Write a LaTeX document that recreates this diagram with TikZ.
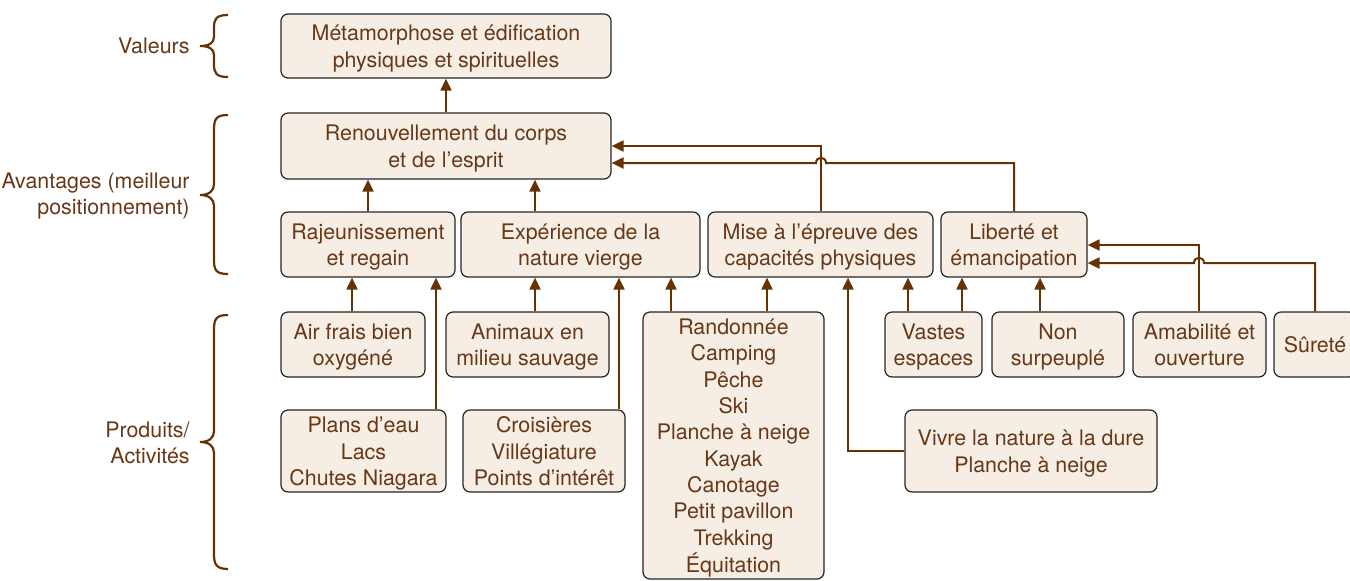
\documentclass[tikz,border=0pt]{standalone}
\usepackage{fontspec}
\setmainfont{TeX Gyre Heros}
\usetikzlibrary{arrows.meta}
\definecolor{boxfill}{RGB}{246,237,228}
\definecolor{txt}{RGB}{104,56,22}
\definecolor{ln}{RGB}{102,50,4}
\definecolor{bord}{RGB}{40,36,34}
\tikzset{
  box/.style={draw=bord, line width=0.6pt, fill=boxfill, rounded corners=3.5pt, inner sep=0pt,
    text=txt, font=\fontsize{10.7}{13.15}\selectfont},
  lab/.style={text=txt, align=right, anchor=east, inner sep=0pt, font=\fontsize{10.7}{13.15}\selectfont},
  conn/.style={draw=ln, line width=1pt, -{Triangle[length=6pt,width=5.5pt]}},
  brc/.style={draw=ln, line width=1.1pt},
}
\newcommand\mybox[6]{\node[box, minimum width={(#4-#2)*0.5pt}, minimum height={(#5-#3)*0.5pt}] (#1) at ({(#2+#4)/2},{(#3+#5)/2}) {\raisebox{-1.4pt}[\height][\depth]{\begin{tabular}{@{}c@{}}#6\end{tabular}}};}
\begin{document}
\begin{tikzpicture}[x=0.5pt,y=-0.5pt]
\useasboundingbox (0,0) rectangle (1350,580);
% boxes
\mybox{val}{281}{14}{611}{78}{Métamorphose et édification\\physiques et spirituelles}
\mybox{ren}{281}{113}{611}{179}{Renouvellement du corps\\et de l’esprit}
\mybox{raj}{281}{212}{455}{277}{Rajeunissement\\et regain}
\mybox{exp}{461}{212}{700}{277}{Expérience de la\\nature vierge}
\mybox{mise}{708}{212}{933}{277}{Mise à l’épreuve des\\capacités physiques}
\mybox{lib}{941}{212}{1087}{277}{Liberté et\\émancipation}
\mybox{air}{281}{312}{425}{377}{Air frais bien\\oxygéné}
\mybox{ani}{446}{312}{609}{377}{Animaux en\\milieu sauvage}
\mybox{ran}{643}{312}{824}{579}{Randonnée\\Camping\\Pêche\\Ski\\Planche à neige\\Kayak\\Canotage\\Petit pavillon\\Trekking\\Équitation}
\mybox{vas}{885}{312}{982}{377}{Vastes\\espaces}
\mybox{non}{992}{312}{1124}{377}{Non\\surpeuplé}
\mybox{ama}{1133}{312}{1266}{377}{Amabilité et\\ouverture}
\mybox{sur}{1274}{312}{1356}{377}{Sûreté}
\mybox{pla}{281}{410}{446}{492}{Plans d’eau\\Lacs\\Chutes Niagara}
\mybox{cro}{463}{410}{625}{492}{Croisières\\Villégiature\\Points d’intérêt}
\mybox{viv}{905}{410}{1157}{492}{Vivre la nature à la dure\\Planche à neige}
% connectors
\draw[conn] (ren.north) -- (val.south);
\draw[conn] (raj.north) -- (raj.north |- ren.south);
\draw[conn] (exp.north -| 535,0) -- (ren.south -| 535,0);
\draw[conn] (mise.north -| 821,0) |- (ren.east |- 0,146);
\draw[conn] (lib.north -| 1014,0) |- (826,163) .. controls (826,156) and (816,156) .. (816,163) -- (ren.east |- 0,163);
\draw[conn] (air.north -| 352,0) -- (raj.south -| 352,0);
\draw[conn] (pla.north -| 436,0) -- (raj.south -| 436,0);
\draw[conn] (ani.north -| 535,0) -- (exp.south -| 535,0);
\draw[conn] (cro.north -| 619,0) -- (exp.south -| 619,0);
\draw[conn] (ran.north -| 671,0) -- (exp.south -| 671,0);
\draw[conn] (ran.north -| 767,0) -- (mise.south -| 767,0);
\draw[conn] (viv.west) -| (mise.south -| 848,0);
\draw[conn] (vas.north -| 908,0) -- (mise.south -| 908,0);
\draw[conn] (vas.north -| 962,0) -- (lib.south -| 962,0);
\draw[conn] (non.north -| 1040,0) -- (lib.south -| 1040,0);
\draw[conn] (ama.north -| 1199,0) |- (lib.east |- 0,245);
\draw[conn] (sur.north -| 1315,0) |- (1204,263) .. controls (1204,256) and (1194,256) .. (1194,263) -- (lib.east |- 0,263);
% braces
\draw[brc] (228,15) .. controls (216,15) and (214,19) .. (214,28) -- (214,37) .. controls (214,43) and (209,46) .. (200,46) .. controls (209,46) and (214,49) .. (214,55) -- (214,64) .. controls (214,73) and (216,77) .. (228,77);
\draw[brc] (228,115) .. controls (216,115) and (214,119) .. (214,130) -- (214,184) .. controls (214,191) and (209,195) .. (200,195) .. controls (209,195) and (214,199) .. (214,206) -- (214,260) .. controls (214,270) and (216,274) .. (228,274);
\draw[brc] (228,315) .. controls (216,315) and (214,319) .. (214,330) -- (214,431) .. controls (214,438) and (209,442) .. (200,442) .. controls (209,442) and (214,446) .. (214,453) -- (214,554) .. controls (214,564) and (216,569) .. (228,569);
% labels
\node[lab] (lv) at (190,46) {Valeurs};
\node[lab] (la) at (190,196) {Avantages (meilleur\\positionnement)};
\node[lab] (lp) at (190,443) {Produits/\\Activités};
\end{tikzpicture}
\end{document}
